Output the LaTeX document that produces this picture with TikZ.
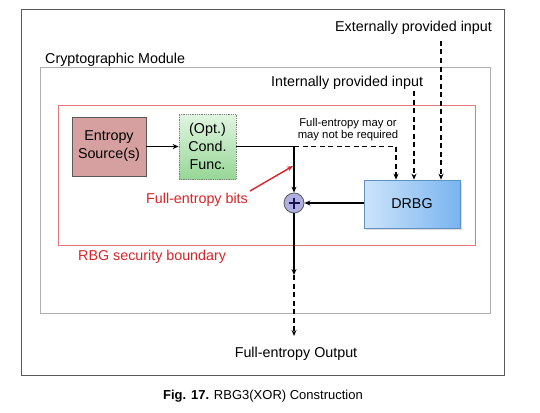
\documentclass[tikz,border=0pt]{standalone}
\usepackage{fontspec}
\setmainfont{Liberation Sans}
\usetikzlibrary{arrows.meta,shadows,calc}
\definecolor{framegray}{RGB}{90,90,90}
\definecolor{modgray}{RGB}{175,175,175}
\definecolor{bndred}{RGB}{225,120,125}
\definecolor{txtred}{RGB}{220,35,40}
\definecolor{espink}{RGB}{214,160,160}
\definecolor{condgreenA}{RGB}{225,245,225}
\definecolor{condgreenB}{RGB}{150,215,150}
\definecolor{drbgA}{RGB}{205,228,250}
\definecolor{drbgB}{RGB}{120,180,240}
\definecolor{xorfill}{RGB}{175,175,225}
\definecolor{navy}{RGB}{20,20,80}
\tikzset{
  lbl/.style={font=\fontsize{14.3}{16}\selectfont, inner sep=0pt},
  smalllbl/.style={font=\fontsize{11.3}{13}\selectfont, inner sep=0pt, align=center},
  esbox/.style={draw=framegray, line width=0.8pt, fill=espink, minimum width=74pt, minimum height=59pt, align=center, font=\fontsize{14.3}{18}\selectfont, inner sep=0pt},
  condbox/.style={draw=gray, densely dotted, line width=0.8pt, top color=condgreenA, bottom color=condgreenB, minimum width=57pt, minimum height=65pt, align=center, font=\fontsize{14.3}{18}\selectfont, inner sep=0pt},
  drbgbox/.style={draw=drbgB!80!black, line width=0.6pt, left color=drbgA, right color=drbgB, minimum width=96pt, minimum height=48pt, font=\fontsize{14.3}{16}\selectfont, inner sep=0pt, drop shadow={opacity=0.25, shadow xshift=1.5pt, shadow yshift=-1.5pt}},
  xorc/.style={circle, draw=framegray, line width=0.8pt, fill=xorfill, minimum size=20pt, inner sep=0pt},
  conn/.style={line width=1.4pt, -{Stealth[length=6pt,width=5pt]}},
  dconn/.style={line width=1.4pt, dash pattern=on 5pt off 3.5pt, -{Stealth[length=6pt,width=5pt]}},
  dline/.style={line width=1.4pt, dash pattern=on 5pt off 3.5pt},
}
\begin{document}
\begin{tikzpicture}[x=1pt,y=-1pt]
\useasboundingbox (0,0) rectangle (540,412);
\fill[white] (0,0) rectangle (540,412);
% frames
\draw[framegray, line width=1pt] (21,10) rectangle (504,375);
\draw[modgray, line width=1pt] (40,67) rectangle (490,313);
\draw[bndred, line width=0.9pt] (58,105) rectangle (475,245);
% labels
\node[lbl, anchor=west] (modlbl) at (45,60) {Cryptographic Module};
\node[lbl, anchor=west] (extlbl) at (335,28) {Externally provided input};
\node[lbl, anchor=west] (intlbl) at (271,83) {Internally provided input};
\node[lbl, anchor=west, text=txtred] (rbglbl) at (78,257) {RBG security boundary};
\node[lbl, text=txtred] (fblbl) at (197,200) {Full-entropy bits};
\node[smalllbl] (mayl) at (348,129.5) {Full-entropy may or\\[-1.5pt]may not be required};
\node[lbl] (outlbl) at (296,354) {Full-entropy Output};
\node[font=\fontsize{13}{15}\selectfont, inner sep=0pt] (cap) at (263,396) {\textbf{Fig. 17.} RBG3(XOR) Construction};
% boxes
\node[esbox] (es) at (109,146.5) {Entropy\\Source(s)};
\node[condbox] (cond) at (207.5,146.5) {(Opt.)\\Cond.\\Func.};
\node[drbgbox] (drbg) at (412,204) {DRBG};
\node[xorc] (xor) at (294,203) {};
\draw[navy, line width=1.8pt] ($(xor.center)+(-5.5,0)$) -- ($(xor.center)+(5.5,0)$);
\draw[navy, line width=1.8pt] ($(xor.center)+(0,-5.5)$) -- ($(xor.center)+(0,5.5)$);
% coordinates
\coordinate (jn) at (294,146.5);
\coordinate (dcorner) at (396,146.5);
\coordinate (intstart) at (414,91);
\coordinate (extstart) at (441,41);
\coordinate (outmid) at (294,275);
\coordinate (outend) at (294,336);
\coordinate (redstart) at (250,191);
\coordinate (redend) at (293,166);
% connectors
\draw[conn] (es) -- (cond);
\draw[line width=1.4pt] (cond.east) -- (jn);
\draw[conn] (jn) -- (xor);
\draw[dline] (jn) -- (dcorner);
\draw[dconn] (dcorner) -- (dcorner |- drbg.north);
\draw[dconn] (intstart) -- (intstart |- drbg.north);
\draw[dconn] (extstart) -- (extstart |- drbg.north);
\draw[conn] (drbg.west |- xor) -- (xor);
\draw[conn] (xor) -- (outmid);
\draw[dconn] (outmid) -- (outend);
\draw[txtred, line width=1.4pt, -{Stealth[length=6pt,width=5pt]}] (redstart) -- (redend);
\end{tikzpicture}
\end{document}
